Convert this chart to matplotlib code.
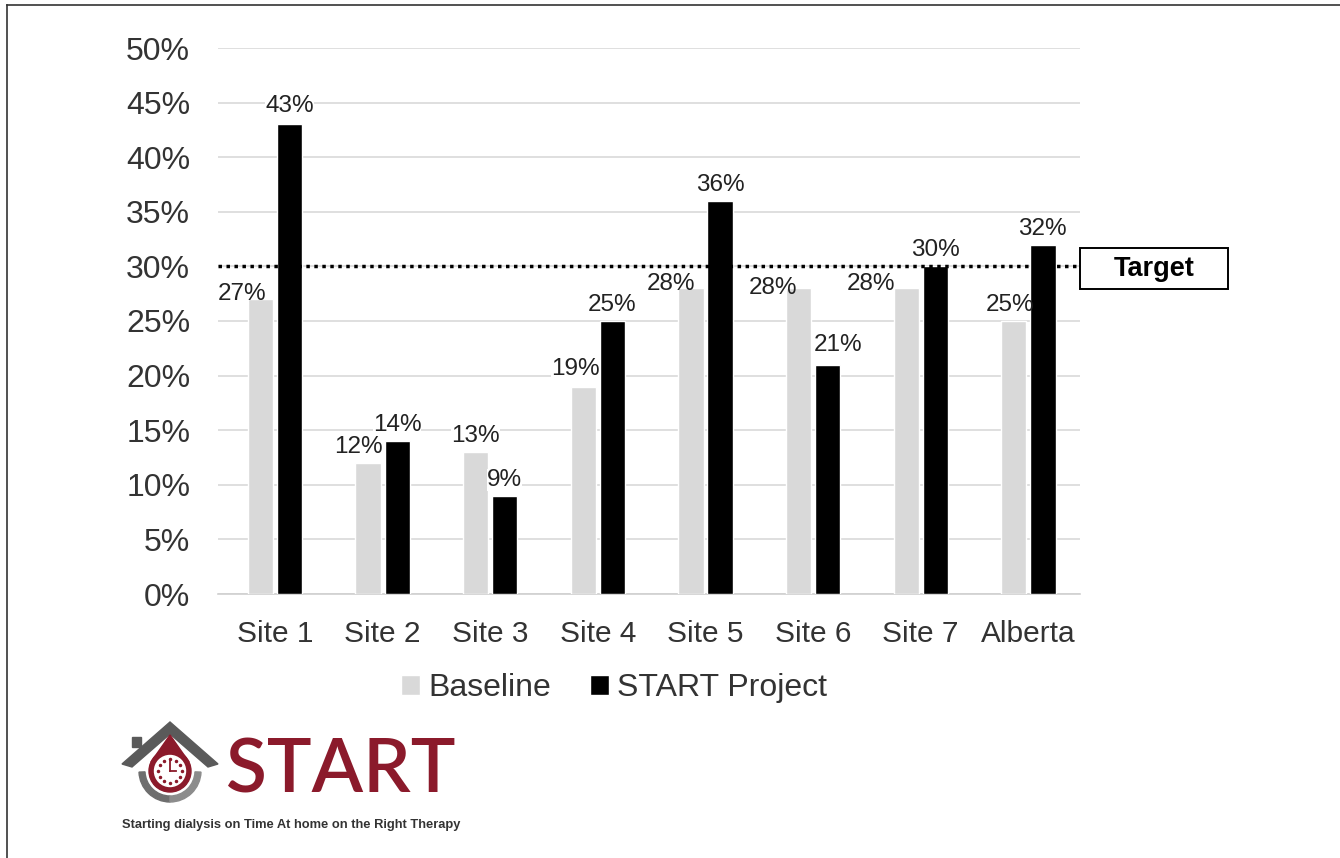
import matplotlib.pyplot as plt
import matplotlib.patches as mpatches
import numpy as np

plt.rcParams["font.family"] = ["Liberation Sans", "DejaVu Sans"]

categories = ["Site 1", "Site 2", "Site 3", "Site 4", "Site 5", "Site 6", "Site 7", "Alberta"]
baseline = [27, 12, 13, 19, 28, 28, 28, 25]
start_project = [43, 14, 9, 25, 36, 21, 30, 32]
target = 30
series_names = ["Baseline", "START Project"]

# manual data-label nudges in pixels (dx, dy), as placed in the original,
# and whether the label gets a white background (only where it clears the bars)
base_label_dx = [-18, -10, 0, -8, -20, -26, -35, -4]
base_label_dy = [-11, 0, 0, 2, -12, -16, -12, 0]
base_label_bg = [False, True, True, True, False, False, False, False]
start_label_dx = [0, 0, 0, 0, 0, 10, 0, 0]
start_label_dy = [2, 0, 0, 0, 0, 4, 0, 0]
start_label_bg = [True] * 8

W, H = 1340, 858
fig = plt.figure(figsize=(W / 100, H / 100), dpi=100)
fig.patch.set_facecolor("white")


def fx(px):
    return px / W


def fy(py):
    return 1 - py / H


# partial frame (top and left edges of the original figure)
fig.add_artist(plt.Line2D([fx(7), 1], [fy(5), fy(5)], color="#333333", lw=1.2))
fig.add_artist(plt.Line2D([fx(7), fx(7)], [fy(5), 0], color="#333333", lw=1.2))

ax = fig.add_axes([fx(218), fy(594), fx(1080) - fx(218), fy(48) - fy(594)])
x = np.arange(len(categories))
bw = 0.235
off = 0.135
b1 = ax.bar(x - off, baseline, bw, color="#d9d9d9", edgecolor="white", lw=1.0,
            label=series_names[0], zorder=3)
b2 = ax.bar(x + off, start_project, bw, color="#000000", edgecolor="white", lw=1.0,
            label=series_names[1], zorder=3)

for bars, vals, dxs, dys, bgs in ((b1, baseline, base_label_dx, base_label_dy, base_label_bg),
                                  (b2, start_project, start_label_dx, start_label_dy,
                                   start_label_bg)):
    for bar, v, dx, dy, bg in zip(bars, vals, dxs, dys, bgs):
        box = dict(facecolor="white", edgecolor="none", pad=0.0) if bg else None
        ax.annotate(f"{v}%", xy=(bar.get_x() + bar.get_width() / 2, v),
                    xytext=(dx * 0.72, (5 + dy) * 0.72), textcoords="offset points",
                    ha="center", va="bottom", fontsize=17.5, color="#222222",
                    zorder=4, bbox=box)

ax.axhline(target, color="black", lw=2.5, ls=(0, (1, 1.3)), zorder=5)

ax.set_xlim(-0.53, len(categories) - 0.52)
ax.set_ylim(0, 50)
ax.set_yticks(np.arange(0, 51, 5))
ax.set_yticklabels([f"{t}%" for t in range(0, 51, 5)], fontsize=23, color="#333333")
ax.set_xticks(x)
ax.set_xticklabels(categories, fontsize=21.5, color="#333333")
ax.tick_params(length=0)
ax.tick_params(axis="x", pad=19)
ax.tick_params(axis="y", pad=20)
ax.yaxis.grid(True, color="#d9d9d9", lw=1.2, zorder=0)
for s in ["top", "right", "left"]:
    ax.spines[s].set_visible(False)
ax.spines["bottom"].set_color("#d0d0d0")
ax.spines["bottom"].set_linewidth(1.2)

# target box
fig.add_artist(mpatches.Rectangle((fx(1080), fy(289)), fx(1228) - fx(1080), fy(248) - fy(289),
                                  transform=fig.transFigure, facecolor="white",
                                  edgecolor="black", lw=1.4))
fig.text(fx(1154), fy(269), "Target", ha="center", va="center", fontsize=19.5,
         fontweight="bold", color="black")

fig.legend(handles=[b1, b2], labels=series_names, loc="center",
           bbox_to_anchor=(fx(614), fy(688)), ncol=2, frameon=False,
           fontsize=23, handlelength=0.6, handleheight=0.6, handletextpad=0.25,
           columnspacing=1.2, labelcolor="#333333")

# START logo
lax = fig.add_axes([fx(110), fy(850), fx(470) - fx(110), fy(710) - fy(850)])
lax.set_xlim(110, 470)
lax.set_ylim(850, 710)
lax.axis("off")
red = "#8b1a2b"
gray = "#5a5a5a"
lax.add_patch(mpatches.Polygon([[122, 764], [170, 722], [218, 764], [208, 767],
                                [170, 734], [132, 767]], closed=True, color=gray))
lax.add_patch(mpatches.Rectangle((132, 737), 9, 10, color=gray))
lax.add_patch(mpatches.Polygon([[170, 735], [151, 762], [189, 762]], closed=True, color=red))
lax.add_patch(mpatches.Circle((170, 771), 21, color=red))
lax.add_patch(mpatches.Circle((170, 771), 15.5, color="white"))
for a in np.linspace(0, 2 * np.pi, 12, endpoint=False):
    lax.plot(170 + 12 * np.cos(a), 771 + 12 * np.sin(a), "o", ms=1.5, color=red)
lax.plot([170, 170], [771, 761], color=red, lw=1.3)
lax.plot([170, 176], [771, 771], color=red, lw=1.3)
lax.add_patch(mpatches.Wedge((170, 771), 31, 90, 178, width=6, color="#6e6e6e"))
lax.add_patch(mpatches.Wedge((170, 771), 31, 2, 90, width=6, color="#8c8c8c"))
lax.text(226, 771, "START", fontsize=54, color=red, va="center", ha="left",
         fontweight="semibold", family=["Lato", "Liberation Sans"])
lax.text(122, 825, "Starting dialysis on Time At home on the Right Therapy",
         fontsize=9.3, color="#333333", va="center", ha="left", fontweight="bold",
         family=["Liberation Sans", "DejaVu Sans"])

fig.savefig("out.png", dpi=100)
